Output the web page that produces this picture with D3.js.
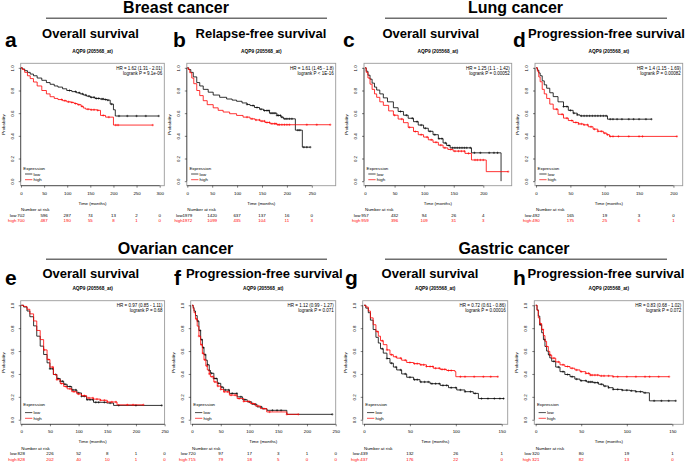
<!DOCTYPE html>
<html>
<head>
<meta charset="utf-8">
<script src="https://cdn.jsdelivr.net/npm/d3@7"></script>
<style>
  body { margin: 0; background: #fff; }
  svg { display: block; font-family: "Liberation Sans", Arial, Helvetica, sans-serif; }
</style>
</head>
<body>
<svg id="chart" width="685" height="462"></svg>
<script>
// ---- survival curves, [time (months), probability] ----
var aLow = [[0,1],[3,0.99],[8,0.975],[14,0.96],[20,0.945],[27,0.93],[35,0.91],[45,0.89],[55,0.87],[63,0.855],[72,0.84],[80,0.83],[90,0.815],[99,0.80],[110,0.79],[120,0.78],[128,0.77],[135,0.76],[142,0.75],[150,0.74],[160,0.73],[171,0.725],[180,0.72],[186,0.715],[193,0.68],[200,0.63],[204,0.575],[298,0.575]];
var aHigh = [[0,1],[3,0.985],[8,0.96],[14,0.93],[20,0.905],[27,0.875],[35,0.84],[45,0.80],[55,0.77],[63,0.745],[72,0.73],[80,0.72],[90,0.71],[99,0.70],[108,0.695],[115,0.685],[122,0.675],[130,0.66],[135,0.645],[140,0.635],[150,0.63],[165,0.625],[172,0.58],[183,0.565],[200,0.495],[285,0.495]];
var aLowCens = [105,118,126,133,140,147,152,158,163,168,175,178,183,188,196,212,230,250,270,298];
var aHighCens = [88,95,103,110,118,125,132,145,152,158,166,178,190,205,210,285];

var bLow = [[0,1],[3,0.985],[7,0.96],[12,0.92],[19,0.87],[25,0.84],[32,0.81],[42,0.785],[52,0.76],[65,0.74],[79,0.725],[90,0.715],[99,0.705],[110,0.69],[120,0.677],[126,0.667],[135,0.65],[145,0.635],[153,0.623],[165,0.60],[180,0.58],[188,0.565],[193,0.55],[217,0.45],[231,0.30],[247,0.30]];
var bHigh = [[0,1],[2,0.985],[5,0.957],[9,0.91],[13,0.86],[19,0.80],[25,0.755],[32,0.71],[40,0.675],[52,0.647],[62,0.625],[72,0.61],[85,0.595],[99,0.58],[112,0.565],[126,0.55],[136,0.54],[146,0.53],[156,0.518],[166,0.507],[180,0.498],[287,0.498]];
var bLowCens = [120,132,140,148,155,160,164,168,172,176,180,183,187,190,196,200,205,210,222,226,234,240,247];
var bHighCens = [120,130,138,145,150,155,160,165,170,175,178,182,185,190,195,200,205,240,260,287];

var cLow = [[0,1],[2,0.97],[5,0.935],[8.5,0.90],[12,0.865],[16,0.83],[19.7,0.804],[25,0.77],[31,0.735],[38,0.70],[48,0.648],[56,0.615],[65,0.582],[73,0.555],[82,0.525],[90,0.495],[99,0.467],[107,0.44],[115,0.41],[124,0.375],[132,0.337],[138,0.315],[144,0.294],[180,0.25],[230,0]];
var cHigh = [[0,1],[2,0.96],[5,0.91],[8.5,0.856],[12,0.81],[16,0.77],[19.7,0.74],[25,0.70],[31,0.669],[40,0.62],[48,0.582],[56,0.548],[65,0.516],[73,0.475],[82,0.438],[90,0.41],[99,0.389],[107,0.365],[115,0.343],[124,0.318],[132,0.294],[140,0.28],[149,0.265],[169,0.245],[180,0.187],[205,0.084],[242,0.084]];
var cLowCens = [60,70,80,88,95,102,110,118,125,130,136,142,148,152,156,160,164,168,172,178,185,195,210,218,224];
var cHighCens = [50,62,75,85,95,105,112,120,128,135,145,152,158,163,168,175,186,190,195,200,242];

var dLow = [[0,1],[2,0.98],[4,0.955],[6,0.93],[9,0.885],[12,0.85],[15.5,0.82],[20,0.78],[25,0.746],[32,0.70],[40,0.658],[47,0.625],[54,0.60],[60,0.585],[64,0.576],[104,0.547],[168,0.547]];
var dHigh = [[0,1],[2,0.97],[4,0.92],[6,0.877],[9,0.81],[12,0.77],[15.5,0.73],[20,0.68],[25,0.635],[32,0.59],[40,0.556],[47,0.535],[54,0.518],[62,0.505],[69,0.497],[76,0.48],[83,0.459],[90,0.44],[98,0.424],[103,0.41],[107,0.395],[205,0.395]];
var dLowCens = [40,45,50,55,60,66,70,74,78,82,86,90,94,98,102,108,112,118,125,135,142,150,160,168];
var dHighCens = [30,38,45,52,58,62,66,70,75,80,85,90,95,100,104,108,112,120,135,150,155,205];

var eLow = [[0,1],[4,0.985],[10,0.95],[15,0.90],[21.5,0.82],[27,0.73],[33,0.643],[39,0.57],[45,0.497],[50,0.445],[56,0.395],[62,0.36],[68,0.336],[74,0.31],[80,0.29],[88,0.26],[97,0.234],[105,0.205],[114,0.175],[126,0.152],[149,0.146],[161,0.125],[245,0.125]];
var eHigh = [[0,1],[4,0.99],[10,0.965],[15,0.925],[21.5,0.863],[27,0.78],[33,0.70],[39,0.61],[45,0.526],[50,0.46],[56,0.395],[62,0.35],[68,0.316],[74,0.29],[80,0.27],[88,0.245],[97,0.225],[105,0.21],[114,0.19],[126,0.18],[138,0.17],[150,0.155],[167,0.13],[213,0.13]];
var eLowCens = [50,55,60,64,68,72,76,80,85,90,95,100,105,110,115,120,125,130,135,145,155,170,200,245];
var eHighCens = [40,48,55,62,70,78,85,92,100,110,118,125,132,138,145,150,158,165,185,195,213];

var fLow = [[0,1],[2,0.98],[3.5,0.95],[6,0.91],[9,0.862],[12,0.78],[15,0.70],[18,0.63],[20.8,0.568],[24,0.52],[26.6,0.48],[30,0.43],[32,0.406],[38,0.36],[44,0.318],[50,0.285],[55,0.26],[65,0.23],[78.5,0.20],[88,0.175],[96,0.156],[104,0.135],[113,0.112],[122,0.095],[130.5,0.082],[165,0.047],[244,0.047]];
var fHigh = [[0,1],[2,0.97],[3.5,0.935],[6,0.88],[9,0.818],[12,0.73],[15,0.656],[18,0.58],[20.8,0.524],[24,0.47],[26.6,0.435],[30,0.40],[32,0.376],[38,0.33],[44,0.294],[50,0.265],[55,0.244],[65,0.215],[78.5,0.185],[90,0.16],[101.6,0.141],[110,0.12],[119,0.097],[130,0.068],[165,0.047],[185,0.047]];
var fLowCens = [10,14,17,20,23,27,30,34,38,42,46,52,58,64,70,78,85,92,100,110,120,140,148,155,244];
var fHighCens = [8,12,16,19,22,26,30,35,40,45,50,56,62,68,75,82,90,98,106,115,125,135,165,185];

var gLow = [[0,1],[2,0.975],[4.7,0.935],[7,0.87],[10,0.788],[13,0.72],[15.6,0.67],[18,0.62],[21,0.582],[25,0.535],[28.3,0.494],[32,0.46],[35.6,0.435],[41,0.40],[46.5,0.371],[54,0.35],[61,0.33],[72,0.315],[83,0.30],[92,0.28],[101,0.26],[110,0.245],[119,0.23],[124.6,0.185],[152.5,0.185]];
var gHigh = [[0,1],[2,0.985],[4.7,0.95],[7,0.89],[10,0.83],[13,0.77],[15.6,0.73],[18,0.69],[21,0.656],[25,0.61],[28.3,0.568],[32,0.55],[35.6,0.538],[41,0.52],[46.5,0.50],[54,0.49],[61,0.48],[68,0.465],[75.5,0.45],[83,0.44],[90,0.43],[99,0.42],[100,0.376],[145.7,0.376]];
var gLowCens = [20,25,30,35,40,45,50,55,58,62,66,70,74,78,82,86,90,95,100,105,110,116,121,128,135,142,148,152];
var gHighCens = [15,20,25,30,35,40,45,50,55,58,62,65,68,72,75,78,82,85,88,92,95,105,110,120,130,138,145.7];

var hLow = [[0,1],[1.5,0.96],[2.9,0.906],[4.5,0.83],[6.6,0.76],[8.5,0.70],[10.2,0.64],[12,0.60],[13.9,0.568],[15.5,0.54],[17.6,0.51],[22,0.46],[26.7,0.42],[32,0.395],[37.7,0.376],[43,0.355],[48.7,0.341],[56,0.33],[63.3,0.324],[69,0.31],[74.3,0.294],[80,0.28],[85,0.265],[95,0.258],[103.5,0.253],[110,0.245],[118,0.235],[124.8,0.165],[153.7,0.165]];
var hHigh = [[0,1],[1.5,0.955],[2.9,0.89],[4.5,0.84],[6.6,0.788],[8.5,0.735],[10.2,0.685],[12,0.64],[13.9,0.597],[15.5,0.565],[17.6,0.538],[22,0.505],[26.7,0.48],[32,0.465],[37.7,0.45],[43,0.435],[48.7,0.42],[55,0.405],[59.6,0.39],[70,0.383],[85,0.376],[146.4,0.376]];
var hLowCens = [5,10,15,20,25,30,35,40,45,50,55,58,60,62,65,68,72,76,80,85,90,95,100,105,110,115,120,130,138,146,153.7];
var hHighCens = [5,8,12,16,20,25,30,35,40,45,50,55,58,60,62,65,68,72,75,80,85,90,100,110,120,125,135,146.4];

// ---- x ticks and numbers at risk ----
var aTicks = [0,50,100,150,200,250,300];
var bTicks = [0,50,100,150,200,250];
var cTicks = [0,50,100,150,200];
var dTicks = [0,50,100,150,200];
var eTicks = [0,50,100,150,200,250];
var fTicks = [0,50,100,150,200,250];
var gTicks = [0,50,100,150];
var hTicks = [0,50,100,150];

var aRiskLow = [702,596,287,74,13,2,0],  aRiskHigh = [700,487,190,55,8,1,0];
var bRiskLow = [1979,1420,637,137,16,0], bRiskHigh = [1972,1099,435,104,11,3];
var cRiskLow = [957,432,94,26,4],        cRiskHigh = [959,396,109,31,3];
var dRiskLow = [492,165,19,3,0],         dRiskHigh = [490,175,25,6,1];
var eRiskLow = [828,226,52,8,1,0],       eRiskHigh = [828,202,40,10,1,0];
var fRiskLow = [720,97,17,3,1,0],        fRiskHigh = [715,79,18,5,0,0];
var gRiskLow = [439,132,26,1],           gRiskHigh = [437,176,22,0];
var hRiskLow = [320,80,19,1],            hRiskHigh = [321,82,13,0];

var aHR = ["HR = 1.62 (1.31 - 2.01)", "logrank P = 9.1e-06"];
var bHR = ["HR = 1.61 (1.45 - 1.8)", "logrank P < 1E-16"];
var cHR = ["HR = 1.25 (1.1 - 1.42)", "logrank P = 0.00052"];
var dHR = ["HR = 1.4 (1.15 - 1.69)", "logrank P = 0.00082"];
var eHR = ["HR = 0.97 (0.85 - 1.11)", "logrank P = 0.68"];
var fHR = ["HR = 1.12 (0.99 - 1.27)", "logrank P = 0.071"];
var gHR = ["HR = 0.72 (0.61 - 0.86)", "logrank P = 0.00016"];
var hHR = ["HR = 0.83 (0.68 - 1.02)", "logrank P = 0.072"];

var yTicks = [0, 0.2, 0.4, 0.6, 0.8, 1.0];
var gene = "AQP9 (205568_at)";

var sections = [
  {text: "Breast cancer",  x: 176,   y: 12.5, x0: 46,  x1: 327, ly: 18.3},
  {text: "Lung cancer",    x: 515.5, y: 12.5, x0: 385, x1: 667, ly: 18.3},
  {text: "Ovarian cancer", x: 175.5, y: 254,  x0: 46,  x1: 327, ly: 259.3},
  {text: "Gastric cancer", x: 514,   y: 254,  x0: 385, x1: 667, ly: 259.3}
];

var panels = [
  {id: "a", title: "Overall survival",          low: aLow, high: aHigh, lowCens: aLowCens, highCens: aHighCens, ticks: aTicks, riskLow: aRiskLow, riskHigh: aRiskHigh, hr: aHR},
  {id: "b", title: "Relapse-free survival",     low: bLow, high: bHigh, lowCens: bLowCens, highCens: bHighCens, ticks: bTicks, riskLow: bRiskLow, riskHigh: bRiskHigh, hr: bHR},
  {id: "c", title: "Overall survival",          low: cLow, high: cHigh, lowCens: cLowCens, highCens: cHighCens, ticks: cTicks, riskLow: cRiskLow, riskHigh: cRiskHigh, hr: cHR},
  {id: "d", title: "Progression-free survival", low: dLow, high: dHigh, lowCens: dLowCens, highCens: dHighCens, ticks: dTicks, riskLow: dRiskLow, riskHigh: dRiskHigh, hr: dHR},
  {id: "e", title: "Overall survival",          low: eLow, high: eHigh, lowCens: eLowCens, highCens: eHighCens, ticks: eTicks, riskLow: eRiskLow, riskHigh: eRiskHigh, hr: eHR},
  {id: "f", title: "Progression-free survival", low: fLow, high: fHigh, lowCens: fLowCens, highCens: fHighCens, ticks: fTicks, riskLow: fRiskLow, riskHigh: fRiskHigh, hr: fHR},
  {id: "g", title: "Overall survival",          low: gLow, high: gHigh, lowCens: gLowCens, highCens: gHighCens, ticks: gTicks, riskLow: gRiskLow, riskHigh: gRiskHigh, hr: gHR},
  {id: "h", title: "Progression-free survival", low: hLow, high: hHigh, lowCens: hLowCens, highCens: hHighCens, ticks: hTicks, riskLow: hRiskLow, riskHigh: hRiskHigh, hr: hHR}
];

// ---- layout (pixel boxes of each plot region) ----
var rows = [
  {top: 63.3,  bottom: 185.7, titleY: 38,  letterY: 47,  legendTop: -16},
  {top: 300.7, bottom: 424.3, titleY: 278, letterY: 285, legendTop: -18.5}
];
var layout = {
  a: {row: 0, x0: 20.7,  x1: 164.3, xmin: -0.6, xmax: 310,   titleX: 90.5,  letterX: 5},
  b: {row: 0, x0: 186.8, x1: 335.7, xmin: -1,   xmax: 298,   titleX: 261,   letterX: 173},
  c: {row: 0, x0: 364,   x1: 511.7, xmin: -1.7, xmax: 248,   titleX: 430.8, letterX: 343},
  d: {row: 0, x0: 535,   x1: 682.7, xmin: -1.5, xmax: 213.5, titleX: 606.5, letterX: 513},
  e: {row: 1, x0: 20.7,  x1: 164.6, xmin: -1,   xmax: 250,   titleX: 90.8,  letterX: 5},
  f: {row: 1, x0: 190.7, x1: 335.7, xmin: -2.3, xmax: 250,   titleX: 264.3, letterX: 174},
  g: {row: 1, x0: 362.7, x1: 507.7, xmin: -1.4, xmax: 156.5, titleX: 430,   letterX: 345},
  h: {row: 1, x0: 534.3, x1: 683.3, xmin: -1.5, xmax: 162,   titleX: 606,   letterX: 513}
};

var svg = d3.select("#chart");
var small = 4.4;

// section headings with underline
sections.forEach(function(s) {
  svg.append("text")
    .attr("x", s.x).attr("y", s.y)
    .attr("text-anchor", "middle")
    .style("font-size", "16px").style("font-weight", "bold")
    .text(s.text);
  svg.append("line")
    .attr("x1", s.x0).attr("x2", s.x1)
    .attr("y1", s.ly).attr("y2", s.ly)
    .attr("stroke", "#6e6e6e").attr("stroke-width", 1.4);
});

// value of a step curve at time t
function survAt(curve, t) {
  var s = curve[0][1];
  curve.forEach(function(p) { if (p[0] <= t) s = p[1]; });
  return s;
}

panels.forEach(function(p) {
  var L = layout[p.id], R = rows[L.row];

  var x = d3.scaleLinear().domain([L.xmin, L.xmax]).range([L.x0, L.x1]);
  var y = d3.scaleLinear().domain([-0.04, 1.04]).range([R.bottom, R.top]);

  // panel letter and title
  svg.append("text")
    .attr("x", L.letterX).attr("y", R.letterY)
    .style("font-size", "21px").style("font-weight", "bold")
    .text(p.id);
  svg.append("text")
    .attr("x", L.titleX).attr("y", R.titleY)
    .attr("text-anchor", "middle")
    .style("font-size", "13px").style("font-weight", "bold")
    .text(p.title);
  svg.append("text")
    .attr("x", (L.x0 + L.x1) / 2).attr("y", R.top - 10.6)
    .attr("text-anchor", "middle")
    .style("font-size", "4.8px").style("font-weight", "bold")
    .text(gene);

  // plot box
  svg.append("rect")
    .attr("x", L.x0).attr("y", R.top)
    .attr("width", L.x1 - L.x0).attr("height", R.bottom - R.top)
    .attr("fill", "none").attr("stroke", "#9a9a9a").attr("stroke-width", 0.9);

  // x axis
  var xAxis = svg.append("g")
    .attr("transform", "translate(0," + R.bottom + ")")
    .call(d3.axisBottom(x).tickValues(p.ticks).tickSize(2).tickPadding(4));
  xAxis.select(".domain").attr("d", "M" + x(p.ticks[0]) + ",0H" + x(p.ticks[p.ticks.length - 1]));
  xAxis.selectAll("line, path").attr("stroke", "#000").attr("stroke-width", 0.5);
  xAxis.selectAll("text").style("font-size", small + "px").style("font-family", null);

  // y axis with rotated labels
  var yAxis = svg.append("g")
    .attr("transform", "translate(" + L.x0 + ",0)")
    .call(d3.axisLeft(y).tickValues(yTicks).tickSize(2).tickFormat(d3.format(".1f")));
  yAxis.select(".domain").attr("d", "M0," + y(0) + "V" + y(1));
  yAxis.selectAll("line, path").attr("stroke", "#000").attr("stroke-width", 0.5);
  yAxis.selectAll("text")
    .attr("x", null).attr("dy", null)
    .attr("text-anchor", "middle")
    .attr("transform", "translate(-7.2,0) rotate(-90)")
    .style("font-size", small + "px").style("font-family", null);

  svg.append("text")
    .attr("transform", "translate(" + (L.x0 - 16) + "," + y(0.5) + ") rotate(-90)")
    .attr("text-anchor", "middle")
    .style("font-size", small + "px")
    .text("Probability");

  svg.append("text")
    .attr("x", (L.x0 + L.x1) / 2).attr("y", R.bottom + 19)
    .attr("text-anchor", "middle")
    .style("font-size", small + "px")
    .text("Time (months)");

  // curves
  var line = d3.line()
    .x(function(d) { return x(d[0]); })
    .y(function(d) { return y(d[1]); })
    .curve(d3.curveStepAfter);

  [["low", "#000"], ["high", "#ff0000"]].forEach(function(g) {
    var curve = p[g[0]], cens = p[g[0] + "Cens"];
    svg.append("path")
      .datum(curve)
      .attr("d", line)
      .attr("fill", "none")
      .attr("stroke", g[1])
      .attr("stroke-width", 0.8);
    svg.append("g").selectAll("path")
      .data(cens)
      .enter().append("path")
      .attr("d", function(t) {
        var cx = x(t), cy = y(survAt(curve, t));
        return "M" + (cx - 1.2) + "," + cy + "H" + (cx + 1.2) + "M" + cx + "," + (cy - 1.2) + "V" + (cy + 1.2);
      })
      .attr("stroke", g[1])
      .attr("stroke-width", 0.5);
  });

  // HR text
  p.hr.forEach(function(t, i) {
    svg.append("text")
      .attr("x", L.x1 - 2).attr("y", R.top + 6.6 + i * 4.7)
      .attr("text-anchor", "end")
      .style("font-size", "4.5px")
      .text(t);
  });

  // legend
  var ly = R.bottom + R.legendTop;
  svg.append("text")
    .attr("x", L.x0 + 2.6).attr("y", ly)
    .style("font-size", small + "px")
    .text("Expression");
  [["low", "#000", R.bottom - 11.7], ["high", "#ff0000", R.bottom - 6]].forEach(function(g) {
    svg.append("line")
      .attr("x1", L.x0 + 4.3).attr("x2", L.x0 + 11.6)
      .attr("y1", g[2]).attr("y2", g[2])
      .attr("stroke", g[1]).attr("stroke-width", 0.7);
    svg.append("text")
      .attr("x", L.x0 + 12.8).attr("y", g[2])
      .attr("dy", "0.35em")
      .style("font-size", small + "px")
      .text(g[0]);
  });

  // numbers at risk
  svg.append("text")
    .attr("x", x(0)).attr("y", R.bottom + 25.3)
    .style("font-size", small + "px")
    .text("Number at risk");
  [["low", "#000", p.riskLow, 30.8], ["high", "#ff0000", p.riskHigh, 36.3]].forEach(function(g) {
    svg.append("text")
      .attr("x", x(0) - 4.6).attr("y", R.bottom + g[3])
      .attr("text-anchor", "end")
      .attr("fill", g[1])
      .style("font-size", small + "px")
      .text(g[0]);
    svg.append("g").selectAll("text")
      .data(g[2])
      .enter().append("text")
      .attr("x", function(d, i) { return x(p.ticks[i]); })
      .attr("y", R.bottom + g[3])
      .attr("text-anchor", "middle")
      .attr("fill", g[1])
      .style("font-size", small + "px")
      .text(function(d) { return d; });
  });
});
</script>
</body>
</html>
